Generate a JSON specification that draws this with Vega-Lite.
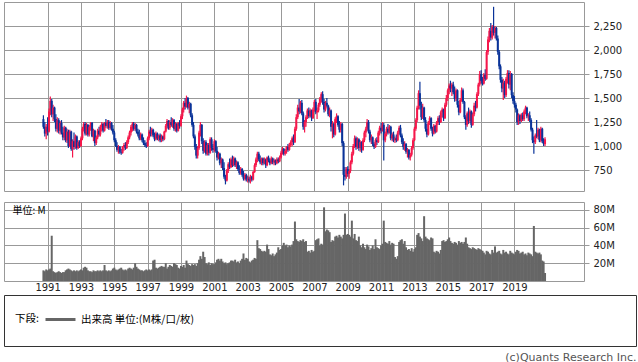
{"$schema":"https://vega.github.io/schema/vega-lite/v6.json","padding":{"left":3,"top":1,"right":0,"bottom":0},"background":"white","config":{"view":{"stroke":"#999999","strokeWidth":1},"axis":{"labelFont":"DejaVu Sans","labelFontSize":10,"labelColor":"#222222","gridColor":"#999999","gridOpacity":1,"tickColor":"#999999","domain":false}},
"data":{"values":[
{"d":"1990-10","o":1280,"h":1320,"l":1180,"c":1200,"v":12},
{"d":"1990-11","o":1200,"h":1250,"l":1100,"c":1130,"v":11},
{"d":"1990-12","o":1130,"h":1230,"l":1070,"c":1200,"v":13},
{"d":"1991-01","o":1200,"h":1300,"l":1110,"c":1150,"v":12},
{"d":"1991-02","o":1150,"h":1390,"l":1140,"c":1360,"v":13},
{"d":"1991-03","o":1360,"h":1515,"l":1320,"c":1470,"v":14},
{"d":"1991-04","o":1470,"h":1490,"l":1300,"c":1330,"v":51},
{"d":"1991-05","o":1330,"h":1430,"l":1260,"c":1400,"v":11},
{"d":"1991-06","o":1400,"h":1410,"l":1250,"c":1280,"v":10},
{"d":"1991-07","o":1280,"h":1330,"l":1150,"c":1180,"v":9},
{"d":"1991-08","o":1180,"h":1300,"l":1140,"c":1270,"v":10},
{"d":"1991-09","o":1270,"h":1290,"l":1130,"c":1160,"v":11},
{"d":"1991-10","o":1160,"h":1260,"l":1120,"c":1240,"v":10},
{"d":"1991-11","o":1240,"h":1270,"l":1120,"c":1140,"v":9},
{"d":"1991-12","o":1140,"h":1200,"l":1060,"c":1090,"v":10},
{"d":"1992-01","o":1090,"h":1210,"l":1060,"c":1190,"v":10},
{"d":"1992-02","o":1190,"h":1200,"l":1040,"c":1060,"v":12},
{"d":"1992-03","o":1060,"h":1180,"l":1030,"c":1150,"v":13},
{"d":"1992-04","o":1150,"h":1170,"l":980,"c":1000,"v":14},
{"d":"1992-05","o":1000,"h":1170,"l":990,"c":1150,"v":13},
{"d":"1992-06","o":1150,"h":1160,"l":950,"c":970,"v":12},
{"d":"1992-07","o":970,"h":1070,"l":880,"c":1050,"v":11},
{"d":"1992-08","o":1050,"h":1140,"l":960,"c":990,"v":12},
{"d":"1992-09","o":990,"h":1120,"l":970,"c":1100,"v":11},
{"d":"1992-10","o":1100,"h":1110,"l":960,"c":980,"v":12},
{"d":"1992-11","o":980,"h":1060,"l":970,"c":1040,"v":11},
{"d":"1992-12","o":1040,"h":1060,"l":980,"c":1000,"v":12},
{"d":"1993-01","o":1000,"h":1100,"l":990,"c":1080,"v":13},
{"d":"1993-02","o":1080,"h":1200,"l":1060,"c":1180,"v":12},
{"d":"1993-03","o":1180,"h":1250,"l":1150,"c":1230,"v":15},
{"d":"1993-04","o":1230,"h":1250,"l":1110,"c":1130,"v":16},
{"d":"1993-05","o":1130,"h":1240,"l":1110,"c":1220,"v":15},
{"d":"1993-06","o":1220,"h":1230,"l":1100,"c":1120,"v":12},
{"d":"1993-07","o":1120,"h":1220,"l":1100,"c":1200,"v":11},
{"d":"1993-08","o":1200,"h":1250,"l":1160,"c":1240,"v":11},
{"d":"1993-09","o":1240,"h":1250,"l":1090,"c":1100,"v":10},
{"d":"1993-10","o":1100,"h":1180,"l":1050,"c":1160,"v":12},
{"d":"1993-11","o":1160,"h":1170,"l":1000,"c":1030,"v":11},
{"d":"1993-12","o":1030,"h":1110,"l":1010,"c":1090,"v":11},
{"d":"1994-01","o":1090,"h":1180,"l":1070,"c":1160,"v":12},
{"d":"1994-02","o":1160,"h":1200,"l":1100,"c":1120,"v":11},
{"d":"1994-03","o":1120,"h":1220,"l":1100,"c":1200,"v":12},
{"d":"1994-04","o":1200,"h":1250,"l":1150,"c":1230,"v":11},
{"d":"1994-05","o":1230,"h":1240,"l":1140,"c":1160,"v":12},
{"d":"1994-06","o":1160,"h":1250,"l":1150,"c":1240,"v":18},
{"d":"1994-07","o":1240,"h":1280,"l":1190,"c":1210,"v":12},
{"d":"1994-08","o":1210,"h":1270,"l":1180,"c":1250,"v":11},
{"d":"1994-09","o":1250,"h":1270,"l":1170,"c":1190,"v":12},
{"d":"1994-10","o":1190,"h":1260,"l":1170,"c":1240,"v":11},
{"d":"1994-11","o":1240,"h":1250,"l":1160,"c":1180,"v":12},
{"d":"1994-12","o":1180,"h":1220,"l":1120,"c":1140,"v":14},
{"d":"1995-01","o":1140,"h":1160,"l":1040,"c":1060,"v":15},
{"d":"1995-02","o":1060,"h":1080,"l":990,"c":1000,"v":13},
{"d":"1995-03","o":1000,"h":1040,"l":940,"c":960,"v":12},
{"d":"1995-04","o":960,"h":1010,"l":920,"c":990,"v":13},
{"d":"1995-05","o":990,"h":1000,"l":920,"c":940,"v":14},
{"d":"1995-06","o":940,"h":970,"l":910,"c":930,"v":15},
{"d":"1995-07","o":930,"h":1000,"l":920,"c":990,"v":13},
{"d":"1995-08","o":990,"h":1030,"l":950,"c":1010,"v":12},
{"d":"1995-09","o":1010,"h":1040,"l":960,"c":980,"v":13},
{"d":"1995-10","o":980,"h":1060,"l":970,"c":1040,"v":12},
{"d":"1995-11","o":1040,"h":1110,"l":1020,"c":1090,"v":14},
{"d":"1995-12","o":1090,"h":1160,"l":1070,"c":1140,"v":15},
{"d":"1996-01","o":1140,"h":1220,"l":1110,"c":1200,"v":14},
{"d":"1996-02","o":1200,"h":1250,"l":1150,"c":1230,"v":13},
{"d":"1996-03","o":1230,"h":1250,"l":1160,"c":1180,"v":15},
{"d":"1996-04","o":1180,"h":1240,"l":1160,"c":1220,"v":20},
{"d":"1996-05","o":1220,"h":1230,"l":1130,"c":1150,"v":16},
{"d":"1996-06","o":1150,"h":1180,"l":1100,"c":1120,"v":14},
{"d":"1996-07","o":1120,"h":1170,"l":1060,"c":1080,"v":13},
{"d":"1996-08","o":1080,"h":1140,"l":1060,"c":1120,"v":12},
{"d":"1996-09","o":1120,"h":1130,"l":1040,"c":1060,"v":12},
{"d":"1996-10","o":1060,"h":1090,"l":1010,"c":1030,"v":11},
{"d":"1996-11","o":1030,"h":1060,"l":990,"c":1010,"v":12},
{"d":"1996-12","o":1010,"h":1040,"l":980,"c":1000,"v":13},
{"d":"1997-01","o":1000,"h":1100,"l":990,"c":1080,"v":12},
{"d":"1997-02","o":1080,"h":1170,"l":1060,"c":1150,"v":13},
{"d":"1997-03","o":1150,"h":1200,"l":1100,"c":1130,"v":12},
{"d":"1997-04","o":1130,"h":1190,"l":1100,"c":1170,"v":13},
{"d":"1997-05","o":1170,"h":1180,"l":1090,"c":1110,"v":23},
{"d":"1997-06","o":1110,"h":1140,"l":1050,"c":1070,"v":24},
{"d":"1997-07","o":1070,"h":1150,"l":1060,"c":1130,"v":15},
{"d":"1997-08","o":1130,"h":1140,"l":1060,"c":1080,"v":14},
{"d":"1997-09","o":1080,"h":1120,"l":1050,"c":1110,"v":15},
{"d":"1997-10","o":1110,"h":1130,"l":1040,"c":1060,"v":16},
{"d":"1997-11","o":1060,"h":1120,"l":1040,"c":1100,"v":17},
{"d":"1997-12","o":1100,"h":1110,"l":1050,"c":1070,"v":16},
{"d":"1998-01","o":1070,"h":1160,"l":1060,"c":1150,"v":16},
{"d":"1998-02","o":1150,"h":1230,"l":1140,"c":1210,"v":20},
{"d":"1998-03","o":1210,"h":1280,"l":1180,"c":1260,"v":14},
{"d":"1998-04","o":1260,"h":1270,"l":1170,"c":1190,"v":16},
{"d":"1998-05","o":1190,"h":1270,"l":1170,"c":1250,"v":18},
{"d":"1998-06","o":1250,"h":1300,"l":1200,"c":1220,"v":17},
{"d":"1998-07","o":1220,"h":1290,"l":1190,"c":1270,"v":16},
{"d":"1998-08","o":1270,"h":1280,"l":1160,"c":1180,"v":20},
{"d":"1998-09","o":1180,"h":1250,"l":1150,"c":1230,"v":19},
{"d":"1998-10","o":1230,"h":1240,"l":1140,"c":1160,"v":18},
{"d":"1998-11","o":1160,"h":1250,"l":1150,"c":1240,"v":15},
{"d":"1998-12","o":1240,"h":1270,"l":1180,"c":1210,"v":14},
{"d":"1999-01","o":1210,"h":1330,"l":1200,"c":1310,"v":17},
{"d":"1999-02","o":1310,"h":1400,"l":1280,"c":1380,"v":16},
{"d":"1999-03","o":1380,"h":1470,"l":1350,"c":1450,"v":18},
{"d":"1999-04","o":1450,"h":1500,"l":1380,"c":1410,"v":15},
{"d":"1999-05","o":1410,"h":1525,"l":1400,"c":1500,"v":23},
{"d":"1999-06","o":1500,"h":1510,"l":1380,"c":1400,"v":19},
{"d":"1999-07","o":1400,"h":1460,"l":1340,"c":1440,"v":18},
{"d":"1999-08","o":1440,"h":1450,"l":1300,"c":1320,"v":17},
{"d":"1999-09","o":1320,"h":1340,"l":1200,"c":1220,"v":19},
{"d":"1999-10","o":1220,"h":1250,"l":1080,"c":1100,"v":18},
{"d":"1999-11","o":1100,"h":1120,"l":960,"c":990,"v":19},
{"d":"1999-12","o":990,"h":1020,"l":870,"c":900,"v":17},
{"d":"2000-01","o":900,"h":1000,"l":870,"c":980,"v":20},
{"d":"2000-02","o":980,"h":1160,"l":960,"c":1140,"v":24},
{"d":"2000-03","o":1140,"h":1250,"l":1100,"c":1220,"v":28},
{"d":"2000-04","o":1220,"h":1230,"l":1020,"c":1050,"v":25},
{"d":"2000-05","o":1050,"h":1080,"l":920,"c":950,"v":33},
{"d":"2000-06","o":950,"h":1060,"l":930,"c":1040,"v":27},
{"d":"2000-07","o":1040,"h":1060,"l":900,"c":920,"v":20},
{"d":"2000-08","o":920,"h":1030,"l":900,"c":1010,"v":19},
{"d":"2000-09","o":1010,"h":1030,"l":900,"c":930,"v":21},
{"d":"2000-10","o":930,"h":1090,"l":920,"c":1070,"v":18},
{"d":"2000-11","o":1070,"h":1090,"l":950,"c":980,"v":20},
{"d":"2000-12","o":980,"h":1020,"l":930,"c":960,"v":19},
{"d":"2001-01","o":960,"h":1070,"l":940,"c":1050,"v":19},
{"d":"2001-02","o":1050,"h":1060,"l":930,"c":950,"v":21},
{"d":"2001-03","o":950,"h":990,"l":850,"c":880,"v":24},
{"d":"2001-04","o":880,"h":940,"l":860,"c":920,"v":25},
{"d":"2001-05","o":920,"h":930,"l":800,"c":820,"v":23},
{"d":"2001-06","o":820,"h":880,"l":770,"c":860,"v":25},
{"d":"2001-07","o":860,"h":870,"l":750,"c":770,"v":22},
{"d":"2001-08","o":770,"h":830,"l":660,"c":680,"v":20},
{"d":"2001-09","o":680,"h":700,"l":600,"c":640,"v":21},
{"d":"2001-10","o":640,"h":760,"l":630,"c":740,"v":19},
{"d":"2001-11","o":740,"h":830,"l":720,"c":810,"v":20},
{"d":"2001-12","o":810,"h":870,"l":760,"c":780,"v":21},
{"d":"2002-01","o":780,"h":880,"l":770,"c":860,"v":23},
{"d":"2002-02","o":860,"h":900,"l":780,"c":800,"v":23},
{"d":"2002-03","o":800,"h":890,"l":790,"c":870,"v":22},
{"d":"2002-04","o":870,"h":880,"l":780,"c":800,"v":24},
{"d":"2002-05","o":800,"h":850,"l":760,"c":830,"v":21},
{"d":"2002-06","o":830,"h":840,"l":740,"c":760,"v":22},
{"d":"2002-07","o":760,"h":800,"l":700,"c":720,"v":20},
{"d":"2002-08","o":720,"h":780,"l":700,"c":760,"v":23},
{"d":"2002-09","o":760,"h":770,"l":680,"c":700,"v":25},
{"d":"2002-10","o":700,"h":740,"l":640,"c":660,"v":31},
{"d":"2002-11","o":660,"h":720,"l":640,"c":700,"v":24},
{"d":"2002-12","o":700,"h":710,"l":630,"c":650,"v":26},
{"d":"2003-01","o":650,"h":690,"l":620,"c":660,"v":25},
{"d":"2003-02","o":660,"h":680,"l":620,"c":640,"v":22},
{"d":"2003-03","o":640,"h":700,"l":610,"c":680,"v":21},
{"d":"2003-04","o":680,"h":690,"l":630,"c":650,"v":23},
{"d":"2003-05","o":650,"h":740,"l":640,"c":730,"v":24},
{"d":"2003-06","o":730,"h":820,"l":720,"c":800,"v":26},
{"d":"2003-07","o":800,"h":880,"l":780,"c":860,"v":25},
{"d":"2003-08","o":860,"h":940,"l":830,"c":920,"v":46},
{"d":"2003-09","o":920,"h":940,"l":840,"c":860,"v":37},
{"d":"2003-10","o":860,"h":900,"l":810,"c":830,"v":36},
{"d":"2003-11","o":830,"h":880,"l":800,"c":870,"v":34},
{"d":"2003-12","o":870,"h":880,"l":800,"c":820,"v":33},
{"d":"2004-01","o":820,"h":880,"l":810,"c":860,"v":34},
{"d":"2004-02","o":860,"h":870,"l":770,"c":800,"v":33},
{"d":"2004-03","o":800,"h":890,"l":790,"c":880,"v":41},
{"d":"2004-04","o":880,"h":900,"l":830,"c":850,"v":36},
{"d":"2004-05","o":850,"h":870,"l":800,"c":820,"v":30},
{"d":"2004-06","o":820,"h":890,"l":810,"c":870,"v":29},
{"d":"2004-07","o":870,"h":880,"l":810,"c":830,"v":31},
{"d":"2004-08","o":830,"h":870,"l":800,"c":850,"v":28},
{"d":"2004-09","o":850,"h":860,"l":800,"c":820,"v":30},
{"d":"2004-10","o":820,"h":880,"l":810,"c":860,"v":32},
{"d":"2004-11","o":860,"h":880,"l":820,"c":840,"v":38},
{"d":"2004-12","o":840,"h":900,"l":830,"c":880,"v":35},
{"d":"2005-01","o":880,"h":950,"l":870,"c":930,"v":36},
{"d":"2005-02","o":930,"h":990,"l":910,"c":970,"v":40},
{"d":"2005-03","o":970,"h":980,"l":900,"c":920,"v":43},
{"d":"2005-04","o":920,"h":970,"l":900,"c":950,"v":40},
{"d":"2005-05","o":950,"h":1000,"l":920,"c":990,"v":41},
{"d":"2005-06","o":990,"h":1020,"l":940,"c":960,"v":38},
{"d":"2005-07","o":960,"h":1030,"l":950,"c":1010,"v":40},
{"d":"2005-08","o":1010,"h":1060,"l":990,"c":1040,"v":39},
{"d":"2005-09","o":1040,"h":1100,"l":1000,"c":1080,"v":41},
{"d":"2005-10","o":1080,"h":1120,"l":1010,"c":1040,"v":45},
{"d":"2005-11","o":1040,"h":1200,"l":1030,"c":1180,"v":67},
{"d":"2005-12","o":1180,"h":1330,"l":1160,"c":1300,"v":47},
{"d":"2006-01","o":1300,"h":1430,"l":1280,"c":1400,"v":45},
{"d":"2006-02","o":1400,"h":1490,"l":1330,"c":1360,"v":44},
{"d":"2006-03","o":1360,"h":1470,"l":1340,"c":1450,"v":46},
{"d":"2006-04","o":1450,"h":1480,"l":1320,"c":1340,"v":45},
{"d":"2006-05","o":1340,"h":1360,"l":1170,"c":1200,"v":47},
{"d":"2006-06","o":1200,"h":1270,"l":1140,"c":1250,"v":44},
{"d":"2006-07","o":1250,"h":1320,"l":1200,"c":1300,"v":45},
{"d":"2006-08","o":1300,"h":1390,"l":1280,"c":1370,"v":33},
{"d":"2006-09","o":1370,"h":1400,"l":1290,"c":1310,"v":34},
{"d":"2006-10","o":1310,"h":1390,"l":1300,"c":1370,"v":32},
{"d":"2006-11","o":1370,"h":1380,"l":1260,"c":1290,"v":35},
{"d":"2006-12","o":1290,"h":1400,"l":1280,"c":1380,"v":33},
{"d":"2007-01","o":1380,"h":1480,"l":1360,"c":1460,"v":34},
{"d":"2007-02","o":1460,"h":1490,"l":1330,"c":1350,"v":46},
{"d":"2007-03","o":1350,"h":1400,"l":1280,"c":1370,"v":47},
{"d":"2007-04","o":1370,"h":1450,"l":1350,"c":1430,"v":48},
{"d":"2007-05","o":1430,"h":1510,"l":1410,"c":1490,"v":40},
{"d":"2007-06","o":1490,"h":1560,"l":1450,"c":1540,"v":42},
{"d":"2007-07","o":1540,"h":1570,"l":1430,"c":1460,"v":41},
{"d":"2007-08","o":1460,"h":1490,"l":1350,"c":1380,"v":83},
{"d":"2007-09","o":1380,"h":1470,"l":1360,"c":1450,"v":56},
{"d":"2007-10","o":1450,"h":1500,"l":1400,"c":1420,"v":58},
{"d":"2007-11","o":1420,"h":1430,"l":1310,"c":1330,"v":57},
{"d":"2007-12","o":1330,"h":1400,"l":1300,"c":1370,"v":55},
{"d":"2008-01","o":1370,"h":1380,"l":1150,"c":1200,"v":44},
{"d":"2008-02","o":1200,"h":1260,"l":1080,"c":1230,"v":46},
{"d":"2008-03","o":1230,"h":1240,"l":1090,"c":1120,"v":45},
{"d":"2008-04","o":1120,"h":1300,"l":1110,"c":1280,"v":50},
{"d":"2008-05","o":1280,"h":1340,"l":1240,"c":1310,"v":51},
{"d":"2008-06","o":1310,"h":1320,"l":1200,"c":1220,"v":49},
{"d":"2008-07","o":1220,"h":1260,"l":1140,"c":1170,"v":52},
{"d":"2008-08","o":1170,"h":1250,"l":1140,"c":1230,"v":50},
{"d":"2008-09","o":1230,"h":1240,"l":1000,"c":1030,"v":48},
{"d":"2008-10","o":1030,"h":1050,"l":590,"c":700,"v":52},
{"d":"2008-11","o":700,"h":780,"l":640,"c":680,"v":76},
{"d":"2008-12","o":680,"h":780,"l":660,"c":760,"v":52},
{"d":"2009-01","o":760,"h":790,"l":680,"c":710,"v":53},
{"d":"2009-02","o":710,"h":760,"l":660,"c":740,"v":52},
{"d":"2009-03","o":740,"h":850,"l":720,"c":830,"v":50},
{"d":"2009-04","o":830,"h":940,"l":810,"c":920,"v":68},
{"d":"2009-05","o":920,"h":1020,"l":900,"c":1000,"v":48},
{"d":"2009-06","o":1000,"h":1110,"l":980,"c":1080,"v":53},
{"d":"2009-07","o":1080,"h":1100,"l":960,"c":990,"v":46},
{"d":"2009-08","o":990,"h":1090,"l":970,"c":1070,"v":45},
{"d":"2009-09","o":1070,"h":1080,"l":950,"c":980,"v":50},
{"d":"2009-10","o":980,"h":1060,"l":940,"c":1040,"v":40},
{"d":"2009-11","o":1040,"h":1050,"l":930,"c":960,"v":38},
{"d":"2009-12","o":960,"h":1080,"l":950,"c":1060,"v":42},
{"d":"2010-01","o":1060,"h":1160,"l":1040,"c":1140,"v":38},
{"d":"2010-02","o":1140,"h":1200,"l":1090,"c":1180,"v":36},
{"d":"2010-03","o":1180,"h":1280,"l":1160,"c":1250,"v":41},
{"d":"2010-04","o":1250,"h":1270,"l":1130,"c":1150,"v":39},
{"d":"2010-05","o":1150,"h":1170,"l":1040,"c":1060,"v":35},
{"d":"2010-06","o":1060,"h":1120,"l":1020,"c":1090,"v":37},
{"d":"2010-07","o":1090,"h":1100,"l":1000,"c":1020,"v":40},
{"d":"2010-08","o":1020,"h":1040,"l":970,"c":990,"v":36},
{"d":"2010-09","o":990,"h":1080,"l":980,"c":1060,"v":47},
{"d":"2010-10","o":1060,"h":1090,"l":1010,"c":1040,"v":38},
{"d":"2010-11","o":1040,"h":1160,"l":1030,"c":1140,"v":37},
{"d":"2010-12","o":1140,"h":1210,"l":1110,"c":1190,"v":36},
{"d":"2011-01","o":1190,"h":1240,"l":1130,"c":1160,"v":40},
{"d":"2011-02","o":1160,"h":1250,"l":1150,"c":1220,"v":42},
{"d":"2011-03","o":1220,"h":1240,"l":850,"c":1060,"v":68},
{"d":"2011-04","o":1060,"h":1150,"l":1040,"c":1130,"v":44},
{"d":"2011-05","o":1130,"h":1200,"l":1100,"c":1180,"v":43},
{"d":"2011-06","o":1180,"h":1230,"l":1120,"c":1140,"v":42},
{"d":"2011-07","o":1140,"h":1220,"l":1130,"c":1200,"v":45},
{"d":"2011-08","o":1200,"h":1210,"l":1060,"c":1080,"v":41},
{"d":"2011-09","o":1080,"h":1140,"l":1050,"c":1120,"v":43},
{"d":"2011-10","o":1120,"h":1150,"l":1040,"c":1060,"v":42},
{"d":"2011-11","o":1060,"h":1100,"l":1030,"c":1080,"v":27},
{"d":"2011-12","o":1080,"h":1120,"l":1040,"c":1060,"v":25},
{"d":"2012-01","o":1060,"h":1160,"l":1050,"c":1140,"v":28},
{"d":"2012-02","o":1140,"h":1210,"l":1120,"c":1190,"v":44},
{"d":"2012-03","o":1190,"h":1220,"l":1090,"c":1110,"v":46},
{"d":"2012-04","o":1110,"h":1130,"l":1020,"c":1040,"v":47},
{"d":"2012-05","o":1040,"h":1080,"l":960,"c":990,"v":42},
{"d":"2012-06","o":990,"h":1050,"l":950,"c":1020,"v":45},
{"d":"2012-07","o":1020,"h":1030,"l":920,"c":940,"v":38},
{"d":"2012-08","o":940,"h":980,"l":880,"c":960,"v":35},
{"d":"2012-09","o":960,"h":970,"l":860,"c":880,"v":36},
{"d":"2012-10","o":880,"h":930,"l":850,"c":910,"v":34},
{"d":"2012-11","o":910,"h":1000,"l":890,"c":980,"v":37},
{"d":"2012-12","o":980,"h":1080,"l":960,"c":1060,"v":33},
{"d":"2013-01","o":1060,"h":1200,"l":1050,"c":1180,"v":36},
{"d":"2013-02","o":1180,"h":1290,"l":1160,"c":1270,"v":38},
{"d":"2013-03","o":1270,"h":1420,"l":1250,"c":1400,"v":52},
{"d":"2013-04","o":1400,"h":1580,"l":1380,"c":1550,"v":54},
{"d":"2013-05","o":1550,"h":1670,"l":1380,"c":1420,"v":50},
{"d":"2013-06","o":1420,"h":1460,"l":1270,"c":1300,"v":48},
{"d":"2013-07","o":1300,"h":1440,"l":1280,"c":1400,"v":45},
{"d":"2013-08","o":1400,"h":1410,"l":1250,"c":1270,"v":73},
{"d":"2013-09","o":1270,"h":1300,"l":1150,"c":1180,"v":50},
{"d":"2013-10","o":1180,"h":1230,"l":1090,"c":1120,"v":48},
{"d":"2013-11","o":1120,"h":1260,"l":1110,"c":1240,"v":47},
{"d":"2013-12","o":1240,"h":1310,"l":1220,"c":1290,"v":46},
{"d":"2014-01","o":1290,"h":1300,"l":1160,"c":1180,"v":49},
{"d":"2014-02","o":1180,"h":1200,"l":1100,"c":1130,"v":48},
{"d":"2014-03","o":1130,"h":1230,"l":1120,"c":1210,"v":33},
{"d":"2014-04","o":1210,"h":1220,"l":1130,"c":1150,"v":32},
{"d":"2014-05","o":1150,"h":1260,"l":1140,"c":1240,"v":34},
{"d":"2014-06","o":1240,"h":1310,"l":1220,"c":1290,"v":33},
{"d":"2014-07","o":1290,"h":1320,"l":1220,"c":1250,"v":31},
{"d":"2014-08","o":1250,"h":1370,"l":1240,"c":1350,"v":35},
{"d":"2014-09","o":1350,"h":1400,"l":1300,"c":1380,"v":45},
{"d":"2014-10","o":1380,"h":1390,"l":1260,"c":1290,"v":46},
{"d":"2014-11","o":1290,"h":1450,"l":1280,"c":1430,"v":44},
{"d":"2014-12","o":1430,"h":1530,"l":1410,"c":1500,"v":45},
{"d":"2015-01","o":1500,"h":1600,"l":1470,"c":1580,"v":47},
{"d":"2015-02","o":1580,"h":1650,"l":1540,"c":1630,"v":49},
{"d":"2015-03","o":1630,"h":1680,"l":1560,"c":1600,"v":45},
{"d":"2015-04","o":1600,"h":1660,"l":1520,"c":1640,"v":43},
{"d":"2015-05","o":1640,"h":1670,"l":1540,"c":1560,"v":42},
{"d":"2015-06","o":1560,"h":1620,"l":1460,"c":1490,"v":44},
{"d":"2015-07","o":1490,"h":1600,"l":1470,"c":1580,"v":43},
{"d":"2015-08","o":1580,"h":1590,"l":1400,"c":1430,"v":41},
{"d":"2015-09","o":1430,"h":1470,"l":1320,"c":1350,"v":45},
{"d":"2015-10","o":1350,"h":1500,"l":1340,"c":1480,"v":43},
{"d":"2015-11","o":1480,"h":1610,"l":1460,"c":1580,"v":44},
{"d":"2015-12","o":1580,"h":1600,"l":1440,"c":1460,"v":42},
{"d":"2016-01","o":1460,"h":1470,"l":1280,"c":1300,"v":44},
{"d":"2016-02","o":1300,"h":1320,"l":1170,"c":1220,"v":49},
{"d":"2016-03","o":1220,"h":1360,"l":1200,"c":1340,"v":42},
{"d":"2016-04","o":1340,"h":1400,"l":1230,"c":1260,"v":38},
{"d":"2016-05","o":1260,"h":1380,"l":1240,"c":1360,"v":37},
{"d":"2016-06","o":1360,"h":1370,"l":1190,"c":1220,"v":36},
{"d":"2016-07","o":1220,"h":1350,"l":1210,"c":1330,"v":38},
{"d":"2016-08","o":1330,"h":1450,"l":1310,"c":1420,"v":37},
{"d":"2016-09","o":1420,"h":1470,"l":1360,"c":1400,"v":36},
{"d":"2016-10","o":1400,"h":1560,"l":1390,"c":1540,"v":35},
{"d":"2016-11","o":1540,"h":1660,"l":1520,"c":1640,"v":37},
{"d":"2016-12","o":1640,"h":1780,"l":1620,"c":1750,"v":36},
{"d":"2017-01","o":1750,"h":1790,"l":1650,"c":1680,"v":35},
{"d":"2017-02","o":1680,"h":1720,"l":1630,"c":1650,"v":34},
{"d":"2017-03","o":1650,"h":1760,"l":1640,"c":1740,"v":32},
{"d":"2017-04","o":1740,"h":1800,"l":1680,"c":1700,"v":30},
{"d":"2017-05","o":1700,"h":2000,"l":1690,"c":1980,"v":34},
{"d":"2017-06","o":1980,"h":2140,"l":1950,"c":2110,"v":33},
{"d":"2017-07","o":2110,"h":2230,"l":2080,"c":2200,"v":31},
{"d":"2017-08","o":2200,"h":2280,"l":2100,"c":2130,"v":30},
{"d":"2017-09","o":2130,"h":2260,"l":2110,"c":2240,"v":35},
{"d":"2017-10","o":2240,"h":2450,"l":2150,"c":2180,"v":32},
{"d":"2017-11","o":2180,"h":2250,"l":2120,"c":2230,"v":39},
{"d":"2017-12","o":2230,"h":2240,"l":2100,"c":2120,"v":32},
{"d":"2018-01","o":2120,"h":2150,"l":1950,"c":1980,"v":33},
{"d":"2018-02","o":1980,"h":2000,"l":1800,"c":1830,"v":34},
{"d":"2018-03","o":1830,"h":1850,"l":1660,"c":1690,"v":31},
{"d":"2018-04","o":1690,"h":1720,"l":1560,"c":1600,"v":30},
{"d":"2018-05","o":1600,"h":1700,"l":1480,"c":1660,"v":35},
{"d":"2018-06","o":1660,"h":1680,"l":1500,"c":1530,"v":32},
{"d":"2018-07","o":1530,"h":1720,"l":1510,"c":1700,"v":33},
{"d":"2018-08","o":1700,"h":1790,"l":1650,"c":1760,"v":31},
{"d":"2018-09","o":1760,"h":1790,"l":1600,"c":1640,"v":30},
{"d":"2018-10","o":1640,"h":1780,"l":1580,"c":1750,"v":34},
{"d":"2018-11","o":1750,"h":1760,"l":1500,"c":1530,"v":32},
{"d":"2018-12","o":1530,"h":1560,"l":1440,"c":1470,"v":31},
{"d":"2019-01","o":1470,"h":1520,"l":1400,"c":1430,"v":30},
{"d":"2019-02","o":1430,"h":1450,"l":1350,"c":1380,"v":33},
{"d":"2019-03","o":1380,"h":1390,"l":1220,"c":1250,"v":35},
{"d":"2019-04","o":1250,"h":1340,"l":1220,"c":1320,"v":34},
{"d":"2019-05","o":1320,"h":1330,"l":1230,"c":1260,"v":31},
{"d":"2019-06","o":1260,"h":1340,"l":1250,"c":1320,"v":32},
{"d":"2019-07","o":1320,"h":1350,"l":1260,"c":1280,"v":33},
{"d":"2019-08","o":1280,"h":1380,"l":1260,"c":1360,"v":30},
{"d":"2019-09","o":1360,"h":1420,"l":1330,"c":1400,"v":31},
{"d":"2019-10","o":1400,"h":1410,"l":1290,"c":1310,"v":29},
{"d":"2019-11","o":1310,"h":1340,"l":1260,"c":1320,"v":32},
{"d":"2019-12","o":1320,"h":1360,"l":1250,"c":1270,"v":31},
{"d":"2020-01","o":1270,"h":1290,"l":1150,"c":1170,"v":30},
{"d":"2020-02","o":1170,"h":1190,"l":1030,"c":1060,"v":28},
{"d":"2020-03","o":1060,"h":1100,"l":920,"c":1040,"v":62},
{"d":"2020-04","o":1040,"h":1130,"l":1020,"c":1110,"v":33},
{"d":"2020-05","o":1110,"h":1270,"l":1080,"c":1100,"v":32},
{"d":"2020-06","o":1100,"h":1190,"l":1070,"c":1170,"v":31},
{"d":"2020-07","o":1170,"h":1180,"l":1040,"c":1060,"v":32},
{"d":"2020-08","o":1060,"h":1200,"l":1040,"c":1180,"v":30},
{"d":"2020-09","o":1180,"h":1190,"l":1030,"c":1050,"v":23},
{"d":"2020-10","o":1050,"h":1080,"l":1000,"c":1020,"v":22},
{"d":"2020-11","o":1020,"h":1090,"l":1000,"c":1070,"v":9}
]},
"spacing":1,
"vconcat":[
{"spacing":11,"bounds":"flush","vconcat":[
{"width":580,"height":189,
"encoding":{"x":{"field":"d","type":"temporal","scale":{"domain":[{"year":1988,"month":9,"date":7},{"year":2022,"month":11,"date":15}]},"axis":{"values":[{"year":1991},{"year":1993},{"year":1995},{"year":1997},{"year":1999},{"year":2001},{"year":2003},{"year":2005},{"year":2007},{"year":2009},{"year":2011},{"year":2013},{"year":2015},{"year":2017},{"year":2019}],"grid":true,"labels":false,"ticks":false,"domain":false,"title":null}}},
"layer":[
{"mark":{"type":"rule","strokeWidth":1.2},"encoding":{"y":{"field":"l","type":"quantitative","scale":{"domain":[531.25,2500],"nice":false,"zero":false},"axis":{"orient":"right","values":[750,1000,1250,1500,1750,2000,2250],"format":",d","grid":true,"tickSize":5,"labelPadding":4,"title":null}},"y2":{"field":"h"},"color":{"condition":{"test":"datum.c >= datum.o","value":"#f5174b"},"value":"#0a3399"}}},
{"mark":{"type":"bar","width":2},"encoding":{"y":{"field":"o","type":"quantitative","axis":{"orient":"right","values":[750,1000,1250,1500,1750,2000,2250],"format":",d","grid":true,"tickSize":5,"labelPadding":4,"title":null}},"y2":{"field":"c"},"color":{"condition":{"test":"datum.c >= datum.o","value":"#f5174b"},"value":"#0a3399"}}}
]},
{"width":580,"height":79,
"mark":{"type":"bar","width":2},
"encoding":{
"x":{"field":"d","type":"temporal","scale":{"domain":[{"year":1988,"month":9,"date":7},{"year":2022,"month":11,"date":15}]},"axis":{"values":[{"year":1991},{"year":1993},{"year":1995},{"year":1997},{"year":1999},{"year":2001},{"year":2003},{"year":2005},{"year":2007},{"year":2009},{"year":2011},{"year":2013},{"year":2015},{"year":2017},{"year":2019}],"format":"%Y","grid":true,"ticks":false,"labelPadding":1,"domain":false,"title":null}},
"y":{"field":"v","type":"quantitative","scale":{"domain":[0,89],"nice":false},"axis":{"orient":"right","values":[20,40,60,80],"labelExpr":"datum.value + 'M'","grid":true,"tickSize":5,"labelPadding":4,"title":"単位: M","titleAngle":0,"titleX":-572,"titleY":8,"titleAlign":"left","titleBaseline":"middle","titleFont":"Noto Sans CJK JP","titleFontSize":10,"titleFontWeight":"normal","titleColor":"#000000"}},
"color":{"datum":"出来高 単位:(M株/口/枚)","type":"nominal","scale":{"range":["#666666"]},"legend":{"title":"下段:","orient":"none","legendX":11,"legendY":311,"direction":"horizontal","titleOrient":"left","titleFont":"Noto Sans CJK JP","titleFontSize":10.5,"titleFontWeight":"normal","titleColor":"#000000","titlePadding":15,"labelFont":"Noto Sans CJK JP","labelFontSize":10.5,"labelColor":"#000000","labelOffset":14,"labelLimit":300,"symbolType":"M-3,0H3","symbolSize":100,"symbolStrokeWidth":3,"symbolStrokeColor":"#666666","padding":0}}
}}
]},
{"width":632,"height":51,"data":{"values":[]},"mark":"point","view":{"stroke":"#333333"}}
],
"title":{"text":"(c)Quants Research Inc.","orient":"bottom","anchor":"end","font":"DejaVu Sans","fontSize":11,"fontWeight":"normal","color":"#555555","offset":5}
}
